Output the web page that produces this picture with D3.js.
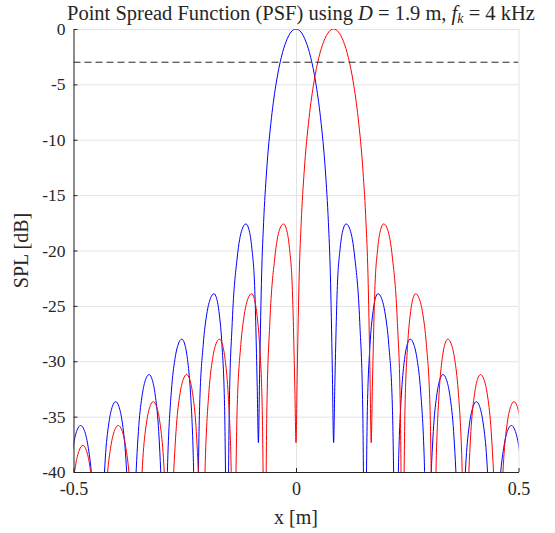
<!DOCTYPE html>
<html>
<head>
<meta charset="utf-8">
<script src="https://cdn.jsdelivr.net/npm/d3@7"></script>
<style>
  body { margin: 0; background: #fff; }
  text { font-family: "Liberation Serif", "DejaVu Serif", serif; fill: #262626; }
</style>
</head>
<body>
<div id="chart"></div>
<script>
// --------------------------------------
//  Data
// --------------------------------------

const xTicks = [-0.5, 0, 0.5];
const yTicks = [-40, -35, -30, -25, -20, -15, -10, -5, 0];
const halfPowerDb = -3;

// [x in m, SPL in dB] ; nulls below the axis are kept at -50 and clipped
const bluePsf = [
  [-0.5168, -46], [-0.5086, -40.4], [-0.5004, -37.64], [-0.4922, -36.24], [-0.484, -35.8],
  [-0.4757, -36.24], [-0.4675, -37.64], [-0.4592, -40.4], [-0.451, -46], [-0.4427, -50],
  [-0.4352, -43.85], [-0.4277, -38.25], [-0.4202, -35.49], [-0.4127, -34.09], [-0.4052, -33.65],
  [-0.3979, -34.09], [-0.3905, -35.49], [-0.3832, -38.25], [-0.3758, -43.85], [-0.3685, -50],
  [-0.3609, -41.4], [-0.3532, -35.8], [-0.3456, -33.04], [-0.3379, -31.64], [-0.3303, -31.2],
  [-0.3233, -31.64], [-0.3164, -33.04], [-0.3094, -35.8], [-0.3025, -41.4], [-0.2955, -50],
  [-0.2877, -38.2], [-0.2799, -32.6], [-0.2722, -29.84], [-0.2644, -28.44], [-0.2566, -28.0],
  [-0.2502, -28.44], [-0.2438, -29.84], [-0.2375, -32.6], [-0.2311, -38.2], [-0.2247, -50],
  [-0.2166, -34.1], [-0.2085, -28.5], [-0.2005, -25.74], [-0.1924, -24.34], [-0.1843, -23.9],
  [-0.1783, -24.34], [-0.1724, -25.74], [-0.1664, -28.5], [-0.1605, -34.1], [-0.1545, -50],
  [-0.15, -34.4], [-0.1433, -26.5], [-0.1323, -20.7], [-0.1213, -18.1], [-0.1125, -17.6],
  [-0.1058, -18.1], [-0.0992, -19.8], [-0.0926, -23.6], [-0.0871, -32.4], [-0.0845, -37.35],
  [-0.0816, -30.7], [-0.0772, -22.1], [-0.0728, -17.47], [-0.0662, -12.91], [-0.0551, -8.01],
  [-0.0441, -4.78], [-0.0331, -2.57], [-0.022, -1.11], [-0.011, -0.27], [0, 0],
  [0.011, -0.27], [0.022, -1.11], [0.0331, -2.57], [0.0441, -4.78], [0.0551, -8.01],
  [0.0662, -12.91], [0.0728, -17.47], [0.0772, -22.1], [0.0816, -30.7], [0.0845, -37.35],
  [0.0871, -32.4], [0.0926, -23.6], [0.0992, -19.8], [0.1058, -18.1], [0.1125, -17.6],
  [0.1213, -18.1], [0.1323, -20.7], [0.1433, -26.5], [0.15, -34.4], [0.1545, -50],
  [0.1605, -34.1], [0.1664, -28.5], [0.1724, -25.74], [0.1783, -24.34], [0.1843, -23.9],
  [0.1924, -24.34], [0.2005, -25.74], [0.2085, -28.5], [0.2166, -34.1], [0.2247, -50],
  [0.2311, -38.2], [0.2375, -32.6], [0.2438, -29.84], [0.2502, -28.44], [0.2566, -28.0],
  [0.2644, -28.44], [0.2722, -29.84], [0.2799, -32.6], [0.2877, -38.2], [0.2955, -50],
  [0.3025, -41.4], [0.3094, -35.8], [0.3164, -33.04], [0.3233, -31.64], [0.3303, -31.2],
  [0.3379, -31.64], [0.3456, -33.04], [0.3532, -35.8], [0.3609, -41.4], [0.3685, -50],
  [0.3758, -43.85], [0.3832, -38.25], [0.3905, -35.49], [0.3979, -34.09], [0.4052, -33.65],
  [0.4127, -34.09], [0.4202, -35.49], [0.4277, -38.25], [0.4352, -43.85], [0.4427, -50],
  [0.451, -46], [0.4592, -40.4], [0.4675, -37.64], [0.4757, -36.24], [0.484, -35.8],
  [0.4922, -36.24], [0.5004, -37.64], [0.5086, -40.4], [0.5168, -46]
];

const redPsf = [
  [-0.5122, -47.8], [-0.5039, -42.2], [-0.4955, -39.44], [-0.4872, -38.04], [-0.4789, -37.6],
  [-0.4712, -38.04], [-0.4635, -39.44], [-0.4559, -42.2], [-0.4482, -47.8], [-0.4405, -50],
  [-0.4323, -46], [-0.4241, -40.4], [-0.4159, -37.64], [-0.4077, -36.24], [-0.3995, -35.8],
  [-0.3912, -36.24], [-0.383, -37.64], [-0.3747, -40.4], [-0.3665, -46], [-0.3582, -50],
  [-0.3507, -43.85], [-0.3432, -38.25], [-0.3357, -35.49], [-0.3282, -34.09], [-0.3207, -33.65],
  [-0.3134, -34.09], [-0.306, -35.49], [-0.2987, -38.25], [-0.2913, -43.85], [-0.284, -50],
  [-0.2764, -41.4], [-0.2687, -35.8], [-0.2611, -33.04], [-0.2534, -31.64], [-0.2458, -31.2],
  [-0.2388, -31.64], [-0.2319, -33.04], [-0.2249, -35.8], [-0.218, -41.4], [-0.211, -50],
  [-0.2032, -38.2], [-0.1954, -32.6], [-0.1877, -29.84], [-0.1799, -28.44], [-0.1721, -28.0],
  [-0.1657, -28.44], [-0.1593, -29.84], [-0.153, -32.6], [-0.1466, -38.2], [-0.1402, -50],
  [-0.1321, -34.1], [-0.124, -28.5], [-0.116, -25.74], [-0.1079, -24.34], [-0.0998, -23.9],
  [-0.0938, -24.34], [-0.0879, -25.74], [-0.0819, -28.5], [-0.076, -34.1], [-0.07, -50],
  [-0.0655, -34.4], [-0.0588, -26.5], [-0.0478, -20.7], [-0.0368, -18.1], [-0.028, -17.6],
  [-0.0213, -18.1], [-0.0147, -19.8], [-0.0081, -23.6], [-0.0026, -32.4], [0, -37.35],
  [0.0029, -30.7], [0.0073, -22.1], [0.0117, -17.47], [0.0183, -12.91], [0.0294, -8.01],
  [0.0404, -4.78], [0.0514, -2.57], [0.0625, -1.11], [0.0735, -0.27], [0.0845, 0],
  [0.0955, -0.27], [0.1065, -1.11], [0.1176, -2.57], [0.1286, -4.78], [0.1396, -8.01],
  [0.1507, -12.91], [0.1573, -17.47], [0.1617, -22.1], [0.1661, -30.7], [0.169, -37.35],
  [0.1716, -32.4], [0.1771, -23.6], [0.1837, -19.8], [0.1903, -18.1], [0.197, -17.6],
  [0.2058, -18.1], [0.2168, -20.7], [0.2278, -26.5], [0.2345, -34.4], [0.239, -50],
  [0.245, -34.1], [0.2509, -28.5], [0.2569, -25.74], [0.2628, -24.34], [0.2688, -23.9],
  [0.2769, -24.34], [0.285, -25.74], [0.293, -28.5], [0.3011, -34.1], [0.3092, -50],
  [0.3156, -38.2], [0.322, -32.6], [0.3283, -29.84], [0.3347, -28.44], [0.3411, -28.0],
  [0.3489, -28.44], [0.3567, -29.84], [0.3644, -32.6], [0.3722, -38.2], [0.38, -50],
  [0.387, -41.4], [0.3939, -35.8], [0.4009, -33.04], [0.4078, -31.64], [0.4148, -31.2],
  [0.4224, -31.64], [0.4301, -33.04], [0.4377, -35.8], [0.4454, -41.4], [0.453, -50],
  [0.4603, -43.85], [0.4677, -38.25], [0.475, -35.49], [0.4824, -34.09], [0.4897, -33.65],
  [0.4972, -34.09], [0.5047, -35.49], [0.5122, -38.25]
];

// --------------------------------------
//  Canvas
// --------------------------------------

const width = 555, height = 533;
const margin = { top: 29, right: 36.5, bottom: 61, left: 73.5 };
const innerwidth = width - margin.left - margin.right;
const innerheight = height - margin.top - margin.bottom;
const axisColor = "#262626";
const gridColor = "#e3e3e3";

const svg = d3.select("#chart")
  .append("svg")
    .attr("width", width)
    .attr("height", height)
    .attr("viewBox", [0, 0, width, height]);

const inner = svg.append("g")
    .attr("transform", `translate(${margin.left}, ${margin.top})`);

inner.append("clipPath")
    .attr("id", "plot-clip")
  .append("rect")
    .attr("width", innerwidth)
    .attr("height", innerheight);

// --------------------------------------
//  Scales
// --------------------------------------

const x = d3.scaleLinear().domain([-0.5, 0.5]).range([0, innerwidth]);
const y = d3.scaleLinear().domain([-40, 0]).range([innerheight, 0]);

// --------------------------------------
//  Grid
// --------------------------------------

inner.append("g")
    .attr("class", "grid-x")
    .attr("transform", `translate(0, ${innerheight})`)
    .call(d3.axisBottom(x).tickValues(xTicks).tickSize(-innerheight).tickFormat(""))
    .call(g => g.select(".domain").remove())
    .call(g => g.selectAll("line").attr("stroke", gridColor));

inner.append("g")
    .attr("class", "grid-y")
    .call(d3.axisLeft(y).tickValues(yTicks).tickSize(-innerwidth).tickFormat(""))
    .call(g => g.select(".domain").remove())
    .call(g => g.selectAll("line").attr("stroke", gridColor));

// --------------------------------------
//  Data drawing
// --------------------------------------

const line = d3.line()
    .x(d => x(d[0]))
    .y(d => y(d[1]))
    .curve(d3.curveMonotoneX);

const plot = inner.append("g").attr("clip-path", "url(#plot-clip)");

plot.append("path")
    .datum(bluePsf)
    .attr("fill", "none")
    .attr("stroke", "#0000ff")
    .attr("stroke-width", 1)
    .attr("d", line);

plot.append("path")
    .datum(redPsf)
    .attr("fill", "none")
    .attr("stroke", "#ff0000")
    .attr("stroke-width", 1)
    .attr("d", line);

plot.append("line")
    .attr("x1", x(-0.5))
    .attr("x2", x(0.5))
    .attr("y1", y(halfPowerDb))
    .attr("y2", y(halfPowerDb))
    .attr("stroke", axisColor)
    .attr("stroke-width", 1)
    .attr("stroke-dasharray", "7,4");

// --------------------------------------
//  Axes
// --------------------------------------

inner.append("g")
    .attr("class", "x-axis")
    .attr("transform", `translate(0, ${innerheight})`)
    .call(d3.axisBottom(x)
            .tickValues(xTicks)
            .tickSizeInner(-4)
            .tickSizeOuter(0)
            .tickFormat(d => String(d))
            .tickPadding(10))
    .call(g => g.select(".domain").attr("stroke", axisColor))
    .call(g => g.selectAll(".tick line").attr("stroke", axisColor))
    .call(g => g.selectAll("text").attr("font-size", 18).attr("fill", axisColor)
                 .attr("font-family", "Liberation Serif"));

inner.append("g")
    .attr("class", "y-axis")
    .call(d3.axisLeft(y)
            .tickValues(yTicks)
            .tickSizeInner(-4)
            .tickSizeOuter(0)
            .tickFormat(d => String(d))
            .tickPadding(8))
    .call(g => g.select(".domain").attr("stroke", axisColor))
    .call(g => g.selectAll(".tick line").attr("stroke", axisColor))
    .call(g => g.selectAll("text").attr("font-size", 17.5).attr("fill", axisColor)
                 .attr("font-family", "Liberation Serif"));

// --------------------------------------
//  Labels
// --------------------------------------

svg.append("text")
    .attr("x", margin.left + innerwidth / 2)
    .attr("y", 524)
    .attr("text-anchor", "middle")
    .attr("font-size", 20)
    .text("x [m]");

svg.append("text")
    .attr("transform", `translate(28, ${margin.top + innerheight / 2}) rotate(-90)`)
    .attr("text-anchor", "middle")
    .attr("font-size", 20)
    .text("SPL [dB]");

// title starts right of the "0" tick label so the two do not collide
const title = svg.append("text")
    .attr("x", 67)
    .attr("y", 19.5)
    .attr("text-anchor", "start")
    .attr("font-size", 20.5);

title.append("tspan").text("Point Spread Function (PSF) using ");
title.append("tspan").attr("font-style", "italic").text("D");
title.append("tspan").text(" = 1.9 m, ");
title.append("tspan").attr("font-style", "italic").text("f");
title.append("tspan").attr("font-style", "italic").attr("font-size", 14).attr("dy", 3.5).text("k");
title.append("tspan").attr("dy", -3.5).text(" = 4 kHz");
</script>
</body>
</html>
